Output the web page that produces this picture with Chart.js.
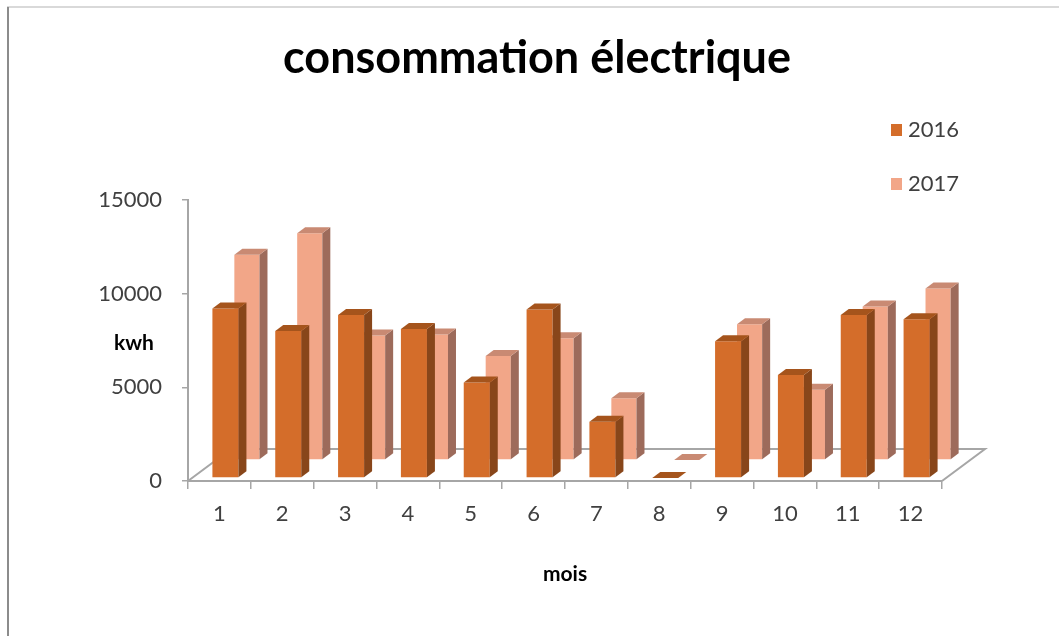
<!DOCTYPE html>
<html lang="fr">
<head>
<meta charset="utf-8">
<title>consommation électrique</title>
<script src="https://cdn.jsdelivr.net/npm/chart.js@4.4.1/dist/chart.umd.min.js"></script>
<style>
  html, body { margin: 0; padding: 0; background: #fff; }
  #wrap { width: 1059px; height: 636px; position: relative; }
</style>
</head>
<body>
<div id="wrap"><canvas id="chart"></canvas></div>
<script>
"use strict";

const months = ["1", "2", "3", "4", "5", "6", "7", "8", "9", "10", "11", "12"];
const kwh2016 = [9050, 7850, 8700, 7950, 5100, 9000, 3000, 0, 7300, 5500, 8700, 8480];
const kwh2017 = [10950, 12100, 6650, 6700, 5550, 6500, 3300, 0, 7250, 3750, 8200, 9150];
const yTicks = [0, 5000, 10000, 15000];

const TITLE = "consommation électrique";
const FONT = "Lato, 'Open Sans', sans-serif";
const GRAY = "#A6A6A6";

// faces of the 3D columns, one entry per dataset (front row / back row)
const faces = [
  { top: "#A5541C", side: "#88461A", shift: [6, -3] },
  { top: "#C98A73", side: "#9D6B5B", shift: [27.5, -21] }
];
const DEPTH = { x: 8, y: -6 };
const FLOOR = { x: 43, y: -32 };

const framePlugin = {
  id: "frame",
  beforeDraw(chart) {
    const ctx = chart.ctx;
    ctx.save();
    ctx.fillStyle = "#fff";
    ctx.fillRect(0, 0, chart.width, chart.height);
    ctx.strokeStyle = "#D9D9D9";
    ctx.lineWidth = 2;
    ctx.beginPath();
    ctx.moveTo(7, 7);
    ctx.lineTo(chart.width, 7);
    ctx.stroke();
    ctx.strokeStyle = "#8C8C8C";
    ctx.beginPath();
    ctx.moveTo(8, 7);
    ctx.lineTo(8, chart.height);
    ctx.stroke();
    ctx.restore();
  },
  beforeDatasetsDraw(chart) {
    // floor of the 3D plot
    const { ctx, chartArea } = chart;
    const { left, right, bottom } = chartArea;
    ctx.save();
    ctx.strokeStyle = GRAY;
    ctx.lineWidth = 2;
    ctx.beginPath();
    ctx.moveTo(left, bottom);
    ctx.lineTo(left + FLOOR.x, bottom + FLOOR.y);
    ctx.lineTo(right + FLOOR.x, bottom + FLOOR.y);
    ctx.lineTo(right, bottom);
    ctx.stroke();
    ctx.restore();
  },
  beforeDatasetDraw(chart, args) {
    const f = faces[args.index];
    chart.ctx.save();
    chart.ctx.translate(f.shift[0], f.shift[1]);
  },
  afterDatasetDraw(chart, args) {
    const ctx = chart.ctx;
    const f = faces[args.index];
    args.meta.data.forEach((bar) => {
      const { x, y, base, width } = bar.getProps(["x", "y", "base", "width"], true);
      const l = x - width / 2;
      const r = x + width / 2;

      ctx.fillStyle = f.side;
      ctx.beginPath();
      ctx.moveTo(r, y);
      ctx.lineTo(r + DEPTH.x, y + DEPTH.y);
      ctx.lineTo(r + DEPTH.x, base + DEPTH.y);
      ctx.lineTo(r, base);
      ctx.closePath();
      ctx.fill();

      ctx.fillStyle = f.top;
      ctx.beginPath();
      ctx.moveTo(l, y);
      ctx.lineTo(l + DEPTH.x, y + DEPTH.y);
      ctx.lineTo(r + DEPTH.x, y + DEPTH.y);
      ctx.lineTo(r, y);
      ctx.closePath();
      ctx.fill();
    });
    ctx.restore();
  },
  afterDraw(chart) {
    const ctx = chart.ctx;
    ctx.save();
    ctx.textBaseline = "middle";

    ctx.fillStyle = "#000";
    ctx.font = "bold 45px " + FONT;
    ctx.textAlign = "center";
    ctx.fillText(TITLE, 537, 58);

    chart.data.datasets.forEach((ds, i) => {
      const y = 130 + i * 54;
      ctx.fillStyle = ds.backgroundColor;
      ctx.fillRect(891, y - 6, 11, 12);
      ctx.fillStyle = "#404040";
      ctx.font = "22px " + FONT;
      ctx.textAlign = "left";
      ctx.fillText(ds.label, 908, y);
    });

    ctx.fillStyle = "#000";
    ctx.font = "bold 21px " + FONT;
    ctx.textAlign = "center";
    ctx.fillText("kwh", 134, 343);
    ctx.restore();
  }
};

new Chart(document.getElementById("chart"), {
  type: "bar",
  data: {
    labels: months,
    datasets: [
      {
        label: "2016",
        data: kwh2016,
        backgroundColor: "#D46D2A",
        borderWidth: 0,
        grouped: false,
        barPercentage: 0.414,
        categoryPercentage: 1,
        clip: false
      },
      {
        label: "2017",
        data: kwh2017,
        backgroundColor: "#F2A688",
        borderWidth: 0,
        grouped: false,
        barPercentage: 0.4,
        categoryPercentage: 1,
        clip: false
      }
    ]
  },
  options: {
    responsive: true,
    maintainAspectRatio: false,
    animation: false,
    layout: { padding: { left: 0, right: 117, top: 200, bottom: 0 } },
    plugins: {
      legend: { display: false },
      tooltip: { enabled: false },
      title: { display: false }
    },
    scales: {
      x: {
        grid: {
          offset: true,
          drawOnChartArea: false,
          drawTicks: true,
          tickLength: 8,
          color: GRAY,
          lineWidth: 1.5
        },
        border: { color: GRAY, width: 2 },
        ticks: {
          color: "#404040",
          font: { family: FONT, size: 22 },
          padding: 12
        },
        title: {
          display: true,
          text: "mois",
          color: "#000",
          font: { family: FONT, size: 21, weight: "bold" },
          padding: { top: 0, bottom: 49 }
        },
        afterFit: (scale) => { scale.height = 155; }
      },
      y: {
        min: 0,
        max: 15000,
        afterBuildTicks: (scale) => {
          scale.ticks = yTicks.map((value) => ({ value }));
        },
        grid: {
          drawOnChartArea: false,
          drawTicks: true,
          tickLength: 6,
          color: GRAY,
          lineWidth: 1.5
        },
        border: { color: GRAY, width: 2 },
        ticks: {
          color: "#404040",
          font: { family: FONT, size: 22 },
          padding: 20,
          callback: (value) => String(value)
        },
        afterFit: (scale) => { scale.width = 188; }
      }
    }
  },
  plugins: [framePlugin]
});
</script>
</body>
</html>
